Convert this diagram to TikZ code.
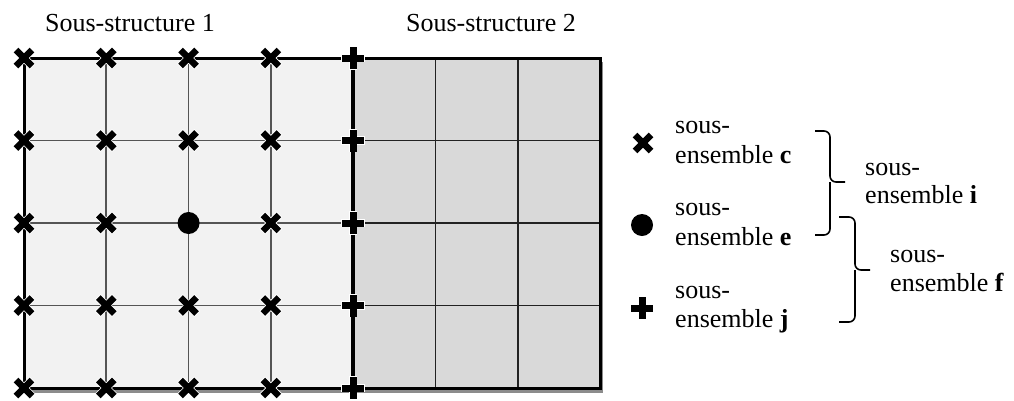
\documentclass[tikz,border=0pt]{standalone}
\usepackage{fontspec}
\setmainfont{Liberation Serif}
\usetikzlibrary{calc}
\definecolor{lightfill}{HTML}{F2F2F2}
\definecolor{darkfill}{HTML}{D9D9D9}
\definecolor{gridgray}{HTML}{555555}
\definecolor{gridblack}{HTML}{222222}
\definecolor{shadowgray}{HTML}{8C8C8C}
\tikzset{
  txt/.style={font=\fontsize{26}{30}\selectfont, inner sep=0pt},
  gline/.style={gridgray, line width=1.6pt},
  rline/.style={gridblack, line width=1.6pt},
  frame/.style={black, line width=3pt},
  xarm/.style={black, line width=6.5pt},
  xhalo/.style={white, line width=8pt},
  parm/.style={black, line width=7pt},
  phalo/.style={white, line width=8.5pt},
  bracepath/.style={black, line width=1.6pt, rounded corners=6pt},
}
\newcommand\drawX[1]{%
  \draw[xhalo] ($(#1)+(-8.6,-8.6)$) -- ($(#1)+(8.6,8.6)$) ($(#1)+(-8.6,8.6)$) -- ($(#1)+(8.6,-8.6)$);
  \draw[xarm] ($(#1)+(-8,-8)$) -- ($(#1)+(8,8)$) ($(#1)+(-8,8)$) -- ($(#1)+(8,-8)$);}
\newcommand\drawP[1]{%
  \draw[phalo] ($(#1)+(-11.8,0)$) -- ($(#1)+(11.8,0)$) ($(#1)+(0,-11.8)$) -- ($(#1)+(0,11.8)$);
  \draw[parm] ($(#1)+(-11,0)$) -- ($(#1)+(11,0)$) ($(#1)+(0,-11)$) -- ($(#1)+(0,11)$);}
\begin{document}
\begin{tikzpicture}[x=1pt,y=-1pt]
\useasboundingbox (0,0) rectangle (1014,400);
% grid coordinates
\foreach \c in {0,...,7}{
  \foreach \r in {0,...,4}{
    \coordinate (g-\c-\r) at ({24+82.286*\c},{58+82.5*\r});
  }
}
% shadow and fills
\fill[shadowgray] ($(g-0-0)+(3,4)$) rectangle ($(g-7-4)+(3,4.5)$);
\fill[lightfill] (g-0-0) rectangle (g-4-4);
\fill[darkfill] (g-4-0) rectangle (g-7-4);
% interior lines
\foreach \c in {1,2,3}{ \draw[gline] (g-\c-0) -- (g-\c-4); }
\foreach \r in {1,2,3}{ \draw[gline] (g-0-\r) -- (g-4-\r); }
\foreach \c in {5,6}{ \draw[rline] (g-\c-0) -- (g-\c-4); }
\foreach \r in {1,2,3}{ \draw[rline] (g-4-\r) -- (g-7-\r); }
% frame
\draw[frame] (g-0-4) -- (g-0-0) -- (g-7-0) -- (g-7-4) -- cycle;
\draw[black, line width=3.5pt] (g-4-0) -- (g-4-4);
% markers
\foreach \c in {0,1,2,3}{
  \foreach \r in {0,1,3,4}{ \drawX{g-\c-\r} }
}
\foreach \c in {0,1,3}{ \drawX{g-\c-2} }
\fill[black] (g-2-2) circle (11);
\foreach \r in {0,...,4}{ \drawP{g-4-\r} }
% titles
\node[txt, anchor=base] (t1) at (130,31) {Sous-structure 1};
\node[txt, anchor=base] (t2) at (491,31) {Sous-structure 2};
% legend symbols
\coordinate (lx) at (643,143);
\coordinate (le) at (642,225);
\coordinate (lj) at (642,308);
\drawX{lx}
\fill[black] (le) circle (11);
\drawP{lj}
% legend texts
\node[txt, anchor=base west] (c1) at (675,133) {sous-};
\node[txt, anchor=base west] (c2) at (675,163) {ensemble \textbf{c}};
\node[txt, anchor=base west] (e1) at (675,215) {sous-};
\node[txt, anchor=base west] (e2) at (675,245) {ensemble \textbf{e}};
\node[txt, anchor=base west] (j1) at (675,298) {sous-};
\node[txt, anchor=base west] (j2) at (675,327) {ensemble \textbf{j}};
% braces
\coordinate (b1t) at (815,131);
\coordinate (b1m) at (830,182);
\coordinate (b1tip) at (845,182);
\coordinate (b1b) at (815,235);
\draw[bracepath] (b1t) -| (b1m) -- (b1tip);
\draw[bracepath] (b1m) |- (b1b);
\coordinate (b2t) at (839,217);
\coordinate (b2m) at (855,270);
\coordinate (b2tip) at (870,270);
\coordinate (b2b) at (839,322);
\draw[bracepath] (b2t) -| (b2m) -- (b2tip);
\draw[bracepath] (b2m) |- (b2b);
\node[txt, anchor=base west] (i1) at (865,175) {sous-};
\node[txt, anchor=base west] (i2) at (865,203) {ensemble \textbf{i}};
\node[txt, anchor=base west] (f1) at (890,262) {sous-};
\node[txt, anchor=base west] (f2) at (890,291) {ensemble \textbf{f}};
\end{tikzpicture}
\end{document}
